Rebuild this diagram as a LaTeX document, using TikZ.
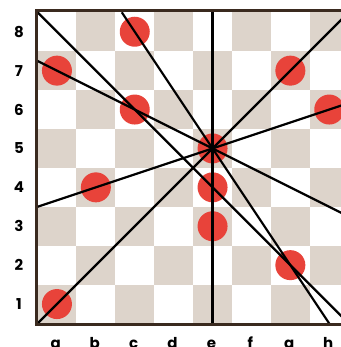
\documentclass[tikz,border=0pt]{standalone}
\usepackage{fontspec}
\setmainfont{Poppins}
\definecolor{sqdark}{HTML}{DDD4CB}
\definecolor{disk}{HTML}{E8433A}
\definecolor{frame}{HTML}{3A2A1F}
\begin{document}
\begin{tikzpicture}[x=38.9pt,y=38.9pt,
  darksq/.style={fill=sqdark},
  stone/.style={circle,fill=disk,minimum size=30pt,inner sep=0pt},
  ray/.style={black,line width=2.2pt},
  lbl/.style={font=\fontsize{15pt}{15pt}\selectfont\bfseries,anchor=base}]
\useasboundingbox (-37.5pt,-23.5pt) rectangle (302.5pt,323.5pt);
\fill[white] (-37.5pt,-23.5pt) rectangle (302.5pt,323.5pt);
% squares
\foreach \f in {0,...,7}{
  \foreach \r in {0,...,7}{
    \pgfmathtruncatemacro{\sqpar}{mod(\f+\r,2)}
    \ifnum\sqpar=0 \fill[darksq] (\f,\r) rectangle ++(1,1);\fi
  }}
% disks
\foreach \n/\f/\r in {a7/1/7,c8/3/8,c6/3/6,b4/2/4,e5/5/5,e4/5/4,e3/5/3,g7/7/7,h6/8/6,g2/7/2,a1/1/1}{
  \node[stone] (\n) at (\f-0.5,\r-0.5) {};
}
% line ends
\coordinate (v1) at (4.5,8); \coordinate (v2) at (4.5,0);
\coordinate (d1) at (0,0); \coordinate (d2) at (8,8);
\coordinate (d3) at (0,8); \coordinate (d4) at (8,0);
\coordinate (k1) at (2.16667,8); \coordinate (k2) at (7.5,0);
\coordinate (m1) at (0,6.75); \coordinate (m2) at (8,2.75);
\coordinate (n1) at (0,3); \coordinate (n2) at (8,5.66667);
\draw[ray] (v1) -- (v2);
\draw[ray] (d1) -- (d2);
\draw[ray] (d3) -- (d4);
\draw[ray] (k1) -- (k2);
\draw[ray] (m1) -- (m2);
\draw[ray] (n1) -- (n2);
% frame
\draw[frame,line width=3pt] (-1.5pt,-1.5pt) rectangle (312.7pt,312.7pt);
% labels
\foreach \r in {1,...,8}{
  \node[lbl,anchor=center] (r\r) at (-18.5pt,\r-0.5) {\r};
}
\foreach \l [count=\i] in {a,b,c,d,e,f,g,h}{
  \node[lbl] (f\l) at (\i-0.53,-25pt) {\l};
}
\end{tikzpicture}
\end{document}
